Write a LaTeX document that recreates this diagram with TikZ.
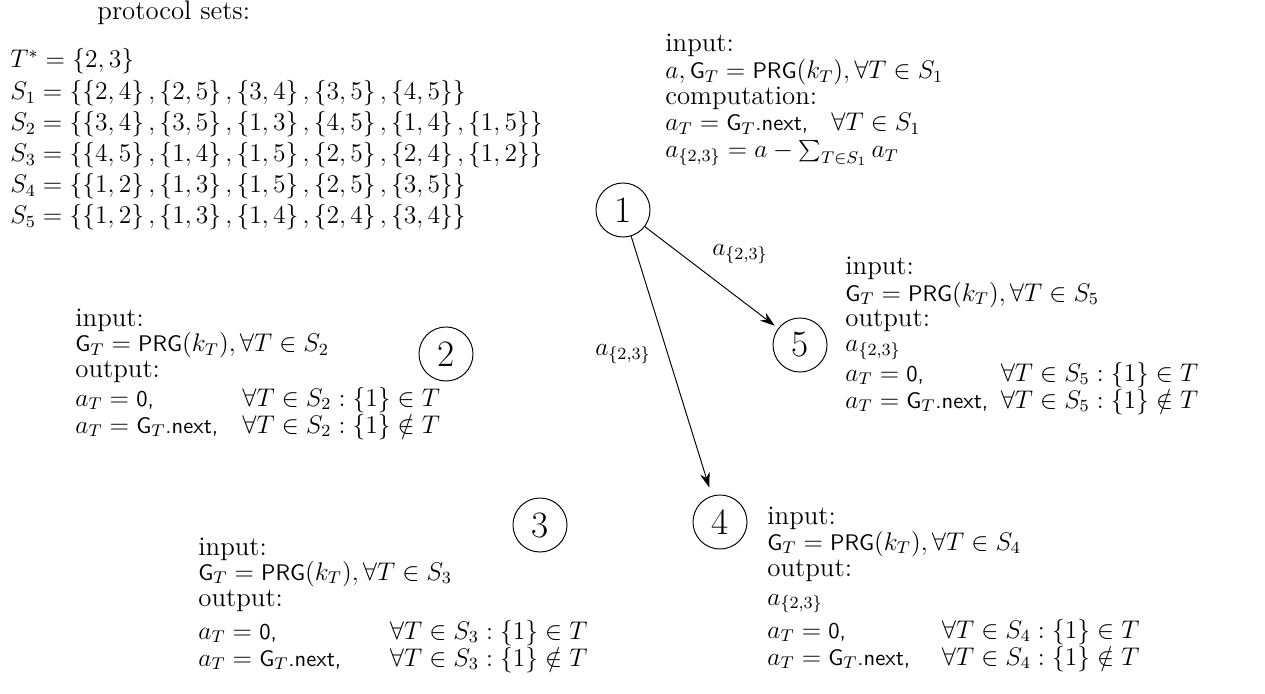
\documentclass[tikz,border=0pt]{standalone}
\usetikzlibrary{arrows.meta}
\newcommand\cola[2]{\makebox[#1][l]{#2}}
\newcommand\sfs[1]{\mbox{\fontsize{10.6}{13}\selectfont\sffamily #1}}
\newcommand\GT{\sfs{G}_T}
\newcommand\PRG{\sfs{PRG}}
\newcommand\nxt{\sfs{.next,}}
\newcommand\zer{\sfs{0,}}
\begin{document}
\begin{tikzpicture}[x=0.47pt, y=-0.47pt,
  txt/.style={anchor=base west, inner sep=0pt, font=\fontsize{12.6}{15}\selectfont},
  mth/.style={anchor=base west, inner sep=0pt, font=\fontsize{12}{14}\selectfont},
  circ/.style={draw, circle, minimum size=25.4pt, inner sep=0pt, line width=0.45pt, font=\fontsize{17.5}{20}\selectfont},
  arr/.style={-{Stealth[length=7pt,width=4.6pt]}, line width=0.45pt},
  lab/.style={inner sep=0pt, font=\fontsize{12}{14}\selectfont}]
\useasboundingbox (0,0) rectangle (1265,694);
% protocol sets
\node[txt] (ps) at (97,20) {protocol sets:};
\node[mth] (t0) at (10,68) {$T^* = \{2,3\}$};
\node[mth] (t1) at (10,99.5) {$S_1 = \left\{\left\{2,4\right\},\left\{2,5\right\},\left\{3,4\right\},\left\{3,5\right\},\left\{4,5\right\}\right\}$};
\node[mth] (t2) at (10,130.5) {$S_2 = \left\{\left\{3,4\right\},\left\{3,5\right\},\left\{1,3\right\},\left\{4,5\right\},\left\{1,4\right\},\left\{1,5\right\}\right\}$};
\node[mth] (t3) at (10,161.5) {$S_3 = \left\{\left\{4,5\right\},\left\{1,4\right\},\left\{1,5\right\},\left\{2,5\right\},\left\{2,4\right\},\left\{1,2\right\}\right\}$};
\node[mth] (t4) at (10,192.5) {$S_4 = \left\{\left\{1,2\right\},\left\{1,3\right\},\left\{1,5\right\},\left\{2,5\right\},\left\{3,5\right\}\right\}$};
\node[mth] (t5) at (10,223.5) {$S_5 = \left\{\left\{1,2\right\},\left\{1,3\right\},\left\{1,4\right\},\left\{2,4\right\},\left\{3,4\right\}\right\}$};
% circles
\node[circ] (n1) at (623,210) {1};
\node[circ] (n2) at (446,354) {2};
\node[circ] (n3) at (540,525) {3};
\node[circ] (n4) at (720,522) {4};
\node[circ] (n5) at (800,345) {5};
% arrows
\draw[arr, shorten >=2pt] (n1) -- (n5);
\draw[arr, shorten >=4pt] (n1) -- (n4);
\node[lab] (l15) at (740,254) {$a_{\{2,3\}}$};
\node[lab] (l14) at (623,354) {$a_{\{2,3\}}$};
% block 1
\node[txt] (b1a) at (665,52) {input:};
\node[mth] (b1b) at (665,79) {$a, \GT = \PRG(k_T), \forall T \in S_1$};
\node[txt] (b1c) at (665,105) {computation:};
\node[mth] (b1d) at (665,131) {\cola{78pt}{$a_T = \GT\nxt$}$\forall T \in S_1$};
\node[mth] (b1e) at (665,158) {$a_{\{2,3\}} = a - \sum_{T\in S_1} a_T$};
% block 5
\node[txt] (b5a) at (845,275) {input:};
\node[mth] (b5b) at (845,301) {$\GT = \PRG(k_T), \forall T \in S_5$};
\node[txt] (b5c) at (845,327) {output:};
\node[mth] (b5d) at (845,352) {$a_{\{2,3\}}$};
\node[mth] (b5e) at (845,381) {\cola{73pt}{$a_T = \zer$}$\forall T \in S_5 : \{1\} \in T$};
\node[mth] (b5f) at (845,408) {\cola{73pt}{$a_T = \GT\nxt$}$\forall T \in S_5 : \{1\} \notin T$};
% block 2
\node[txt] (b2a) at (75,326) {input:};
\node[mth] (b2b) at (75,352) {$\GT = \PRG(k_T), \forall T \in S_2$};
\node[txt] (b2c) at (75,377) {output:};
\node[mth] (b2d) at (75,406) {\cola{78.5pt}{$a_T = \zer$}$\forall T \in S_2 : \{1\} \in T$};
\node[mth] (b2e) at (75,433) {\cola{78.5pt}{$a_T = \GT\nxt$}$\forall T \in S_2 : \{1\} \notin T$};
% block 3
\node[txt] (b3a) at (198,555) {input:};
\node[mth] (b3b) at (198,580) {$\GT = \PRG(k_T), \forall T \in S_3$};
\node[txt] (b3c) at (198,606) {output:};
\node[mth] (b3d) at (198,639) {\cola{90pt}{$a_T = \zer$}$\forall T \in S_3 : \{1\} \in T$};
\node[mth] (b3e) at (198,666) {\cola{90pt}{$a_T = \GT\nxt$}$\forall T \in S_3 : \{1\} \notin T$};
% block 4
\node[txt] (b4a) at (767,524) {input:};
\node[mth] (b4b) at (767,550) {$\GT = \PRG(k_T), \forall T \in S_4$};
\node[txt] (b4c) at (767,576) {output:};
\node[mth] (b4d) at (767,605) {$a_{\{2,3\}}$};
\node[mth] (b4e) at (767,638) {\cola{82pt}{$a_T = \zer$}$\forall T \in S_4 : \{1\} \in T$};
\node[mth] (b4f) at (767,665) {\cola{82pt}{$a_T = \GT\nxt$}$\forall T \in S_4 : \{1\} \notin T$};
\end{tikzpicture}
\end{document}
